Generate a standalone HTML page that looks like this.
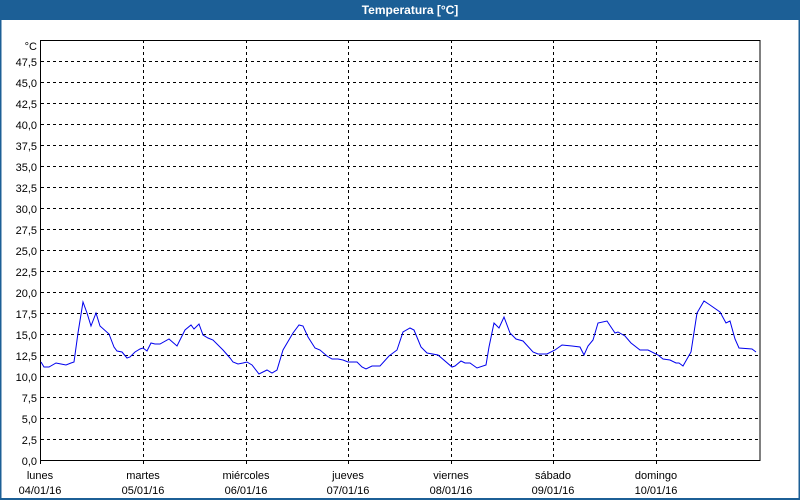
<!DOCTYPE html>
<html><head><meta charset="utf-8"><style>
body{margin:0;width:800px;height:500px;overflow:hidden;background:#fff;font-family:"Liberation Sans",Tahoma,sans-serif}
</style></head><body>
<svg width="800" height="500" xmlns="http://www.w3.org/2000/svg" style="position:absolute;left:0;top:0">
<rect x="0" y="0" width="800" height="500" fill="#fff"/>
<rect x="0" y="0" width="800" height="20" fill="#1c5f96"/>
<rect x="0" y="0" width="1.5" height="500" fill="#1c5f96"/>
<rect x="798.5" y="0" width="1.5" height="500" fill="#1c5f96"/>
<rect x="0" y="498" width="800" height="2" fill="#1c5f96"/>
<text x="410" y="14" fill="#fff" font-size="12" font-weight="bold" text-anchor="middle">Temperatura [°C]</text>
<g stroke="#000" stroke-width="1" stroke-dasharray="3,3" fill="none">
<path d="M41 61.5H760M41 82.5H760M41 103.5H760M41 124.5H760M41 145.5H760M41 166.5H760M41 187.5H760M41 208.5H760M41 229.5H760M41 250.5H760M41 271.5H760M41 292.5H760M41 313.5H760M41 334.5H760M41 355.5H760M41 376.5H760M41 397.5H760M41 418.5H760M41 439.5H760"/>
<path d="M143.5 40V460M246.5 40V460M348.5 40V460M451.5 40V460M553.5 40V460M656.5 40V460"/>
</g>
<rect x="40.5" y="40.5" width="719.5" height="420" fill="none" stroke="#000" stroke-width="1"/>
<path d="M40.5 460V464M143.5 460V464M246.5 460V464M348.5 460V464M451.5 460V464M553.5 460V464M656.5 460V464" stroke="#000"/>
<g font-size="11" fill="#000" text-anchor="end">
<text x="37" y="50">°C</text>
<text x="37" y="66">47,5</text><text x="37" y="87">45,0</text><text x="37" y="108">42,5</text><text x="37" y="129">40,0</text><text x="37" y="150">37,5</text><text x="37" y="171">35,0</text><text x="37" y="192">32,5</text><text x="37" y="213">30,0</text><text x="37" y="234">27,5</text><text x="37" y="255">25,0</text><text x="37" y="276">22,5</text><text x="37" y="297">20,0</text><text x="37" y="318">17,5</text><text x="37" y="339">15,0</text><text x="37" y="360">12,5</text><text x="37" y="381">10,0</text><text x="37" y="402">7,5</text><text x="37" y="423">5,0</text><text x="37" y="444">2,5</text><text x="37" y="465">0,0</text>
</g>
<g font-size="11" fill="#000" text-anchor="middle">
<text x="40" y="479">lunes</text><text x="40" y="494">04/01/16</text>
<text x="143" y="479">martes</text><text x="143" y="494">05/01/16</text>
<text x="246" y="479">miércoles</text><text x="246" y="494">06/01/16</text>
<text x="348" y="479">jueves</text><text x="348" y="494">07/01/16</text>
<text x="451" y="479">viernes</text><text x="451" y="494">08/01/16</text>
<text x="553" y="479">sábado</text><text x="553" y="494">09/01/16</text>
<text x="656" y="479">domingo</text><text x="656" y="494">10/01/16</text>
</g>
<polyline fill="none" stroke="#0000ee" stroke-width="1" points="41,362 44,367 49,367 56,363 61,364 66,365 71,363 74,362 78,333 83,302 87,313 91,326 96,313 100,326 109,334 114,347 117,351 122,352 127,358 130,357 135,352 140,349 143,348 147,351 151,343 155,344 160,344 169,339 177,346 185,330 191,325 194,329 199,324 203,335 208,338 213,340 223,350 230,358 233,362 238,364 243,363 247,362 252,365 259,374 267,370 272,373 277,370 283,350 293,333 299,325 303,326 308,337 315,348 320,350 327,356 332,359 338,359 343,360 348,362 357,362 362,367 366,369 372,366 380,366 389,356 397,350 403,332 410,328 414,330 421,347 427,353 438,355 452,367 455,366 461,361 465,363 470,363 477,368 486,365 489,347 494,323 499,328 504,317 510,333 516,339 523,341 533,352 538,354 547,354 555,350 562,345 572,346 580,347 584,355 588,346 593,340 598,323 607,321 615,333 618,332 625,336 631,343 640,350 648,350 658,355 663,359 670,360 676,363 679,363 683,366 691,352 697,313 704,301 710,305 720,312 726,323 730,321 735,339 739,348 752,349 756,352"/>
</svg>
</body></html>
